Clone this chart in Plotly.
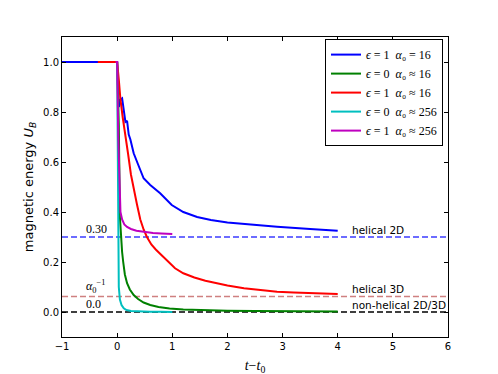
import plotly.graph_objects as go

# blue: eps=1, alpha0=16
t_b = [-1.0, -0.5, 0.0, 0.03, 0.06, 0.09, 0.12, 0.15, 0.18, 0.21, 0.24, 0.30, 0.38, 0.48, 0.60, 0.78, 0.99, 1.2, 1.45, 1.7, 2.0, 2.48, 2.9, 3.5, 4.0]
U_b = [1.0, 1.0, 1.0, 0.82, 0.85, 0.855, 0.80, 0.76, 0.765, 0.71, 0.69, 0.635, 0.59, 0.535, 0.508, 0.475, 0.428, 0.40, 0.38, 0.368, 0.358, 0.348, 0.341, 0.332, 0.325]

# green: eps=0, alpha0~16
t_g = [0.0, 0.03, 0.05, 0.07, 0.09, 0.11, 0.14, 0.18, 0.23, 0.30, 0.38, 0.48, 0.6, 0.75, 0.95, 1.2, 1.5, 2.0, 2.5, 3.0, 3.5, 4.0]
U_g = [1.0, 0.75, 0.38, 0.29, 0.24, 0.2, 0.15, 0.115, 0.09, 0.068, 0.052, 0.038, 0.028, 0.02, 0.014, 0.01, 0.007, 0.005, 0.004, 0.003, 0.003, 0.002]

# red: eps=1, alpha0~16
t_r = [-0.35, 0.0, 0.03, 0.06, 0.10, 0.15, 0.20, 0.25, 0.30, 0.36, 0.42, 0.48, 0.54, 0.62, 0.70, 0.80, 0.92, 1.05, 1.2, 1.4, 1.6, 1.8, 2.0, 2.3, 2.6, 2.9, 3.2, 3.5, 4.0]
U_r = [1.0, 1.0, 0.93, 0.85, 0.78, 0.71, 0.63, 0.55, 0.49, 0.43, 0.37, 0.33, 0.30, 0.27, 0.25, 0.228, 0.20, 0.175, 0.155, 0.138, 0.125, 0.115, 0.106, 0.095, 0.088, 0.081, 0.078, 0.075, 0.072]

# cyan: eps=0, alpha0~256
t_c = [0.0, 0.01, 0.02, 0.03, 0.05, 0.08, 0.12, 0.17, 0.25, 0.4, 0.6, 0.8, 1.0]
U_c = [1.0, 0.6, 0.2, 0.1, 0.05, 0.028, 0.015, 0.008, 0.004, 0.002, 0.001, 0.001, 0.0]

# magenta: eps=1, alpha0~256
t_m = [-0.03, 0.0, 0.02, 0.04, 0.06, 0.09, 0.13, 0.18, 0.25, 0.35, 0.48, 0.65, 0.8, 1.0]
U_m = [1.0, 1.0, 0.7, 0.48, 0.40, 0.37, 0.35, 0.34, 0.332, 0.325, 0.32, 0.316, 0.314, 0.312]

levels = [0.30, 1 / 16, 0.0]
level_colors = ['#3d3dff', '#cf8080', 'black']
level_marks = ['0.30', '<i>α</i><sub>0</sub><sup>−1</sup>', '0.0']
level_names = ['helical 2D', 'helical 3D', 'non-helical 2D/3D']

series = [
    (t_b, U_b, '#0000ff', '<i>ϵ</i> = 1  <i>α</i>₀ = 16'),
    (t_g, U_g, '#008000', '<i>ϵ</i> = 0  <i>α</i>₀ ≈ 16'),
    (t_r, U_r, '#ff0000', '<i>ϵ</i> = 1  <i>α</i>₀ ≈ 16'),
    (t_c, U_c, '#00bfbf', '<i>ϵ</i> = 0  <i>α</i>₀ ≈ 256'),
    (t_m, U_m, '#bf00bf', '<i>ϵ</i> = 1  <i>α</i>₀ ≈ 256'),
]

fig = go.Figure()

for y, c in zip(levels, level_colors):
    fig.add_hline(y=y, line=dict(color=c, width=1.5, dash='6px,3px'), layer='below')

for t, u, c, name in series:
    fig.add_trace(go.Scatter(x=t, y=u, mode='lines', name=name,
                             line=dict(color=c, width=2)))

serif = 'Liberation Serif'
for y, m in zip(levels, level_marks):
    fig.add_annotation(x=-0.6, y=y, text=m, showarrow=False, xanchor='left', yanchor='bottom',
                       font=dict(family=serif, size=12, color='black'), yshift=-1)
for y, n in zip(levels, level_names):
    fig.add_annotation(x=4.22, y=y, text=n, showarrow=False, xanchor='left', yanchor='bottom',
                       font=dict(family='DejaVu Sans', size=10.5, color='black'), yshift=-1)

axis_common = dict(showline=True, linecolor='black', linewidth=1, mirror='allticks',
                   ticks='inside', ticklen=4, tickcolor='black', showgrid=False, zeroline=False,
                   tickfont=dict(family='DejaVu Sans', size=10, color='black'))

# the page body adds an 8px offset, so margins are shifted to keep the plot area in place
fig.update_layout(
    width=498, height=374,
    margin=dict(l=54, r=58, t=29, b=45),
    plot_bgcolor='white', paper_bgcolor='white',
    xaxis=dict(range=[-1, 6], dtick=1,
               title=dict(text='<i>t</i>−<i>t</i><sub>0</sub>', standoff=9,
                          font=dict(family=serif, size=14, color='black')),
               **axis_common),
    yaxis=dict(range=[-0.1, 1.1], tickvals=[0, 0.2, 0.4, 0.6, 0.8, 1.0], tickformat='.1f',
               title=dict(text='magnetic energy <i>U</i><sub><i>B</i></sub>', standoff=6,
                          font=dict(family='DejaVu Sans', size=13, color='black')),
               **axis_common),
    legend=dict(x=0.987, y=0.993, xanchor='right', yanchor='top',
                bordercolor='black', borderwidth=1, bgcolor='white',
                font=dict(family=serif, size=12, color='black'),
                tracegroupgap=0),
    showlegend=True,
)

fig.write_html("out.html")
